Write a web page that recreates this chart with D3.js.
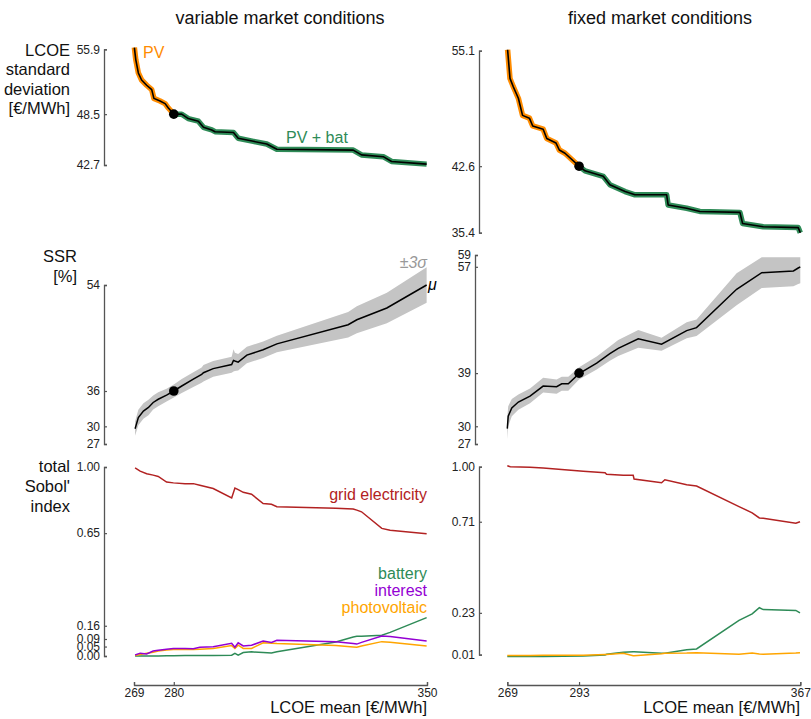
<!DOCTYPE html>
<html>
<head>
<meta charset="utf-8">
<script src="https://cdn.jsdelivr.net/npm/d3@7"></script>
<style>
  body { margin: 0; background: #fff; }
  svg { font-family: "Liberation Sans", Arial, sans-serif; }
</style>
</head>
<body>
<div id="chart"></div>
<script>
// column titles
const titles = ['variable market conditions', 'fixed market conditions']

// LCOE std vs LCOE mean (top row)
const varStdX = [269.1, 269.5, 270.2, 271.1, 272.5, 273.9, 274.5, 276.2, 277.6, 278.5, 280, 282.2, 284.0, 286.8, 288.2, 290.5, 291.4, 296.5, 297.8, 302.0, 305.7, 308.5, 329.6, 331.9, 337.9, 340.2, 349.9]
const varStdY = [56.1, 54.7, 53.2, 52.4, 51.8, 51.3, 50.3, 50.0, 49.7, 49.2, 48.5, 48.5, 48.0, 47.7, 47.0, 46.7, 46.5, 46.4, 45.75, 45.4, 45.1, 44.5, 44.4, 43.85, 43.65, 43.1, 42.8]
const fixStdX = [269.1, 269.9, 271.0, 272.7, 274.1, 276.4, 277.5, 281.0, 282.2, 285.3, 286.4, 288.3, 293, 295.0, 301.1, 303.3, 308.4, 311.7, 322.3, 322.8, 329.0, 333.4, 346.8, 347.7, 354.6, 366.3, 367]
const fixStdY = [55.2, 52.1, 51.2, 49.95, 48.1, 47.8, 46.95, 46.6, 45.6, 45.1, 44.35, 44.0, 42.6, 42.1, 41.5, 40.6, 39.85, 39.5, 39.5, 38.4, 38.05, 37.7, 37.6, 36.4, 36.05, 35.95, 35.4]

// selected design (marker)
const varPick = { x: 280, std: 48.5, ssr: 36 }
const fixPick = { x: 293, std: 42.6, ssr: 39 }

// SSR mean and +-3 sigma band (middle row)
const varSsrX = [269.3, 270.2, 271.6, 273.0, 274.3, 275.7, 278.0, 280, 282.2, 285.4, 287.7, 288.2, 290.9, 296.0, 296.5, 296.9, 297.8, 300.2, 304.7, 308.5, 328.2, 330.6, 338.9, 349.9]
const varSsrMu = [29.6, 31.5, 32.6, 33.2, 34.05, 34.6, 35.3, 36.0, 36.85, 38.0, 38.8, 39.1, 39.8, 40.5, 41.2, 41.1, 40.9, 42.1, 43.0, 44.0, 47.25, 48.1, 50.1, 54.0]
const varSsrLo = [28.4, 30.2, 31.3, 31.9, 32.85, 33.4, 34.2, 34.9, 35.65, 36.7, 37.4, 37.6, 38.4, 39.1, 39.3, 39.4, 39.5, 40.7, 41.6, 42.6, 45.1, 45.8, 47.5, 51.0]
const varSsrHi = [30.8, 32.8, 33.9, 34.5, 35.25, 35.8, 36.4, 37.1, 38.05, 39.2, 40.0, 40.4, 41.1, 41.8, 43.1, 42.5, 42.3, 43.5, 44.4, 45.4, 49.4, 50.4, 52.7, 57.0]

const fixSsrX = [269, 269.3, 270.5, 272.7, 276.6, 281.0, 285.5, 287.2, 289.4, 293, 298.9, 303.3, 306.1, 312.8, 320.6, 329.0, 332.3, 345.7, 354.1, 364.7, 366.3, 367]
const fixSsrMu = [29.6, 31.7, 33.1, 34.1, 35.1, 36.8, 36.7, 37.2, 37.2, 38.9, 40.7, 42.3, 43.2, 44.8, 43.9, 46.2, 46.7, 53.2, 56.0, 56.3, 56.8, 57.0]
const fixSsrLo = [27.8, 30.0, 31.7, 32.8, 33.9, 35.7, 35.5, 36.0, 36.0, 37.9, 39.6, 41.1, 41.9, 43.3, 42.8, 44.9, 45.3, 50.5, 53.4, 53.7, 54.1, 54.2]
const fixSsrHi = [31.4, 33.4, 34.6, 35.4, 36.4, 38.2, 37.9, 38.4, 38.4, 40.0, 41.8, 43.5, 44.6, 46.3, 45.0, 47.6, 48.1, 55.9, 58.6, 58.6, 58.6, 58.6]

// total Sobol' indices (bottom row)
const varSobX = [269.3, 270.7, 272.5, 274.3, 275.7, 278.0, 279.9, 283.1, 285.4, 287.2, 290.9, 296.0, 296.9, 297.8, 299.2, 301.5, 304.7, 307.0, 308.5, 324.8, 329.6, 330.6, 331.9, 337.5, 339.8, 349.9]
const varGrid = [0.995, 0.978, 0.964, 0.957, 0.95, 0.92, 0.916, 0.912, 0.912, 0.903, 0.886, 0.836, 0.889, 0.88, 0.866, 0.856, 0.807, 0.803, 0.79, 0.782, 0.778, 0.772, 0.763, 0.675, 0.665, 0.647]
const varInterest = [0.005, 0.015, 0.011, 0.026, 0.03, 0.036, 0.04, 0.04, 0.039, 0.046, 0.049, 0.067, 0.046, 0.07, 0.053, 0.057, 0.079, 0.072, 0.083, 0.075, 0.066, 0.063, 0.072, 0.106, 0.103, 0.079]
const varPv = [0.002, 0.008, 0.015, 0.02, 0.026, 0.032, 0.035, 0.035, 0.034, 0.036, 0.04, 0.055, 0.04, 0.057, 0.04, 0.04, 0.07, 0.068, 0.066, 0.056, 0.048, 0.046, 0.053, 0.076, 0.073, 0.053]
const varBattery = [0, 0, 0, 0, 0, 0.001, 0.001, 0.002, 0.002, 0.002, 0.003, 0.004, 0.014, 0.005, 0.018, 0.022, 0.018, 0.016, 0.023, 0.074, 0.1, 0.104, 0.105, 0.11, 0.125, 0.203]

const fixSobX = [269, 270, 276.6, 281, 294.4, 301.7, 302.2, 307.8, 311.1, 311.4, 320.6, 321.7, 329, 332.3, 346.5, 350.9, 353.3, 354.6, 365.5, 366.9]
const fixGrid = [1.005, 1.0, 0.997, 0.993, 0.976, 0.968, 0.96, 0.955, 0.955, 0.935, 0.915, 0.931, 0.905, 0.898, 0.79, 0.757, 0.73, 0.728, 0.702, 0.71]
const fixBattery = [0, 0, 0, 0, 0.002, 0.008, 0.012, 0.022, 0.025, 0.025, 0.017, 0.017, 0.035, 0.04, 0.19, 0.225, 0.257, 0.247, 0.243, 0.23]
const fixPv = [0.005, 0.005, 0.005, 0.006, 0.007, 0.01, 0.01, 0.017, 0.004, 0.004, 0.015, 0.017, 0.018, 0.02, 0.012, 0.018, 0.013, 0.012, 0.018, 0.02]

// tick labels
const varXTicks = [269, 280, 350]
const fixXTicks = [269, 293, 367]
const varStdTicks = [42.7, 48.5, 55.9]
const fixStdTicks = [35.4, 42.6, 55.1]
const varSsrTicks = [27, 30, 36, 54]
const fixSsrTicks = [27, 30, 39, 57, 59]
const varSobTicks = [0, 0.05, 0.09, 0.16, 0.65, 1]
const fixSobTicks = [0.01, 0.23, 0.71, 1]

const colors = { pv: '#ff8c00', bat: '#2e8b57', grid: '#b22222', interest: '#9400d3', photovoltaic: '#ffa500', band: '#c4c4c4' }

const svg = d3.select('#chart').append('svg').attr('width', 811).attr('height', 719)

const xVar = d3.scaleLinear().domain([269, 350]).range([134, 427])
const xFix = d3.scaleLinear().domain([269, 367]).range([507.3, 800.3])

const yVarStd = d3.scaleLinear().domain([42.7, 55.9]).range([165, 49.3])
const yFixStd = d3.scaleLinear().domain([35.4, 55.1]).range([232.7, 50.7])
const yVarSsr = d3.scaleLinear().domain([27, 54]).range([444, 285])
const yFixSsr = d3.scaleLinear().domain([27, 59]).range([444, 255])
const yVarSob = d3.scaleLinear().domain([0, 1]).range([656, 467])
const yFixSob = d3.scaleLinear().domain([0, 1]).range([656.5, 466.7])

const styleAxis = (g) => {
  g.attr('font-size', 12).attr('font-family', '"Liberation Sans", Arial, sans-serif')
  g.select('.domain').attr('stroke', '#555').attr('stroke-width', 1.3)
  g.selectAll('.tick line').attr('stroke', '#555').attr('stroke-width', 1.2)
  g.selectAll('.tick text').attr('fill', '#222')
}

const yAxis = (scale, x, ticks, fmt) => {
  const lo = d3.min(ticks)
  const hi = d3.max(ticks)
  const s = scale.copy().domain([lo, hi]).range([scale(lo), scale(hi)])
  svg.append('g')
    .attr('transform', `translate(${x},0)`)
    .call(d3.axisLeft(s).tickValues(ticks).tickFormat(d3.format(fmt)).tickSize(-3).tickSizeOuter(-3).tickPadding(4))
    .call(styleAxis)
}

const xAxis = (scale, ticks) => {
  svg.append('g')
    .attr('transform', 'translate(0,685)')
    .call(d3.axisBottom(scale).tickValues(ticks).tickFormat(d3.format('d')).tickSize(-3).tickSizeOuter(-3).tickPadding(3))
    .call(styleAxis)
}

const pts = (xs, ys) => xs.map((x, i) => [x, ys[i]])

// ---------- top row: std deviation ----------
const stdPanel = (xs, ys, pick, x, y) => {
  const line = d3.line().x((d) => x(d[0])).y((d) => y(d[1]))
  const all = pts(xs, ys)
  const k = xs.indexOf(pick.x)
  const pv = all.slice(0, k + 1)
  const bat = all.slice(k)
  svg.append('path').attr('d', line(pv)).attr('fill', 'none').attr('stroke', colors.pv).attr('stroke-width', 5.5).attr('stroke-linejoin', 'round')
  svg.append('path').attr('d', line(bat)).attr('fill', 'none').attr('stroke', colors.bat).attr('stroke-width', 5.5).attr('stroke-linejoin', 'round')
  svg.append('path').attr('d', line(all)).attr('fill', 'none').attr('stroke', '#000').attr('stroke-width', 1.6).attr('stroke-linejoin', 'round')
  svg.append('circle').attr('cx', x(pick.x)).attr('cy', y(pick.std)).attr('r', 4.8).attr('fill', '#000')
}
stdPanel(varStdX, varStdY, varPick, xVar, yVarStd)
stdPanel(fixStdX, fixStdY, fixPick, xFix, yFixStd)
yAxis(yVarStd, 104, varStdTicks, '.1f')
yAxis(yFixStd, 479, fixStdTicks, '.1f')

svg.append('text').attr('x', 143).attr('y', 58).attr('font-size', 16).attr('fill', colors.pv).text('PV')
svg.append('text').attr('x', 286).attr('y', 143).attr('font-size', 16).attr('fill', colors.bat).text('PV + bat')

// ---------- middle row: SSR ----------
const ssrPanel = (xs, mu, lo, hi, pick, x, y) => {
  const area = d3.area().x((d) => x(d.x)).y0((d) => y(d.lo)).y1((d) => y(d.hi))
  const rows = xs.map((v, i) => ({ x: v, mu: mu[i], lo: lo[i], hi: hi[i] }))
  svg.append('path').attr('d', area(rows)).attr('fill', colors.band)
  const line = d3.line().x((d) => x(d.x)).y((d) => y(d.mu))
  svg.append('path').attr('d', line(rows)).attr('fill', 'none').attr('stroke', '#000').attr('stroke-width', 1.5)
  svg.append('circle').attr('cx', x(pick.x)).attr('cy', y(pick.ssr)).attr('r', 4.8).attr('fill', '#000')
}
ssrPanel(varSsrX, varSsrMu, varSsrLo, varSsrHi, varPick, xVar, yVarSsr)
ssrPanel(fixSsrX, fixSsrMu, fixSsrLo, fixSsrHi, fixPick, xFix, yFixSsr)
yAxis(yVarSsr, 104, varSsrTicks, 'd')
yAxis(yFixSsr, 475, fixSsrTicks, 'd')

svg.append('text').attr('x', 427).attr('y', 268).attr('text-anchor', 'end').attr('font-size', 16)
  .attr('font-style', 'italic').attr('fill', '#999').text('±3σ')
svg.append('text').attr('x', 428).attr('y', 290).attr('font-size', 16).attr('font-style', 'italic').attr('fill', '#000').text('μ')

// ---------- bottom row: Sobol' ----------
const sobLine = (xs, ys, x, y, color) => {
  const line = d3.line().x((d) => x(d[0])).y((d) => y(d[1]))
  svg.append('path').attr('d', line(pts(xs, ys))).attr('fill', 'none').attr('stroke', color).attr('stroke-width', 1.5)
}
sobLine(varSobX, varBattery, xVar, yVarSob, colors.bat)
sobLine(varSobX, varPv, xVar, yVarSob, colors.photovoltaic)
sobLine(varSobX, varInterest, xVar, yVarSob, colors.interest)
sobLine(varSobX, varGrid, xVar, yVarSob, colors.grid)
sobLine(fixSobX, fixBattery, xFix, yFixSob, colors.bat)
sobLine(fixSobX, fixPv, xFix, yFixSob, colors.photovoltaic)
sobLine(fixSobX, fixGrid, xFix, yFixSob, colors.grid)
yAxis(yVarSob, 104, varSobTicks, '.2f')
yAxis(yFixSob, 479, fixSobTicks, '.2f')

const seriesLabels = [
  { text: 'grid electricity', y: 500, color: colors.grid },
  { text: 'battery', y: 579, color: colors.bat },
  { text: 'interest', y: 596, color: colors.interest },
  { text: 'photovoltaic', y: 613, color: colors.photovoltaic }
]
svg.selectAll('.slabel').data(seriesLabels).enter().append('text')
  .attr('x', 427).attr('y', (d) => d.y).attr('text-anchor', 'end').attr('font-size', 16)
  .attr('fill', (d) => d.color).text((d) => d.text)

// ---------- x axes ----------
xAxis(xVar, varXTicks)
xAxis(xFix, fixXTicks)
svg.append('text').attr('x', 427).attr('y', 713).attr('text-anchor', 'end').attr('font-size', 16.5).attr('fill', '#111').text('LCOE mean [€/MWh]')
svg.append('text').attr('x', 800).attr('y', 713).attr('text-anchor', 'end').attr('font-size', 16.5).attr('fill', '#111').text('LCOE mean [€/MWh]')

// ---------- titles ----------
svg.append('text').attr('x', 280).attr('y', 24).attr('text-anchor', 'middle').attr('font-size', 18).attr('fill', '#111').text(titles[0])
svg.append('text').attr('x', 660).attr('y', 24).attr('text-anchor', 'middle').attr('font-size', 18).attr('fill', '#111').text(titles[1])

// ---------- row labels ----------
const rowLabel = (lines, x, y0, dy) => {
  lines.forEach((l, i) => {
    svg.append('text').attr('x', x).attr('y', y0 + i * dy).attr('text-anchor', 'end').attr('font-size', 16.5).attr('fill', '#111').text(l)
  })
}
rowLabel(['LCOE', 'standard', 'deviation', '[€/MWh]'], 70, 55.5, 19.6)
rowLabel(['SSR', '[%]'], 77, 262, 19.5)
rowLabel(['total', 'Sobol\'', 'index'], 70, 472, 20)
</script>
</body>
</html>
